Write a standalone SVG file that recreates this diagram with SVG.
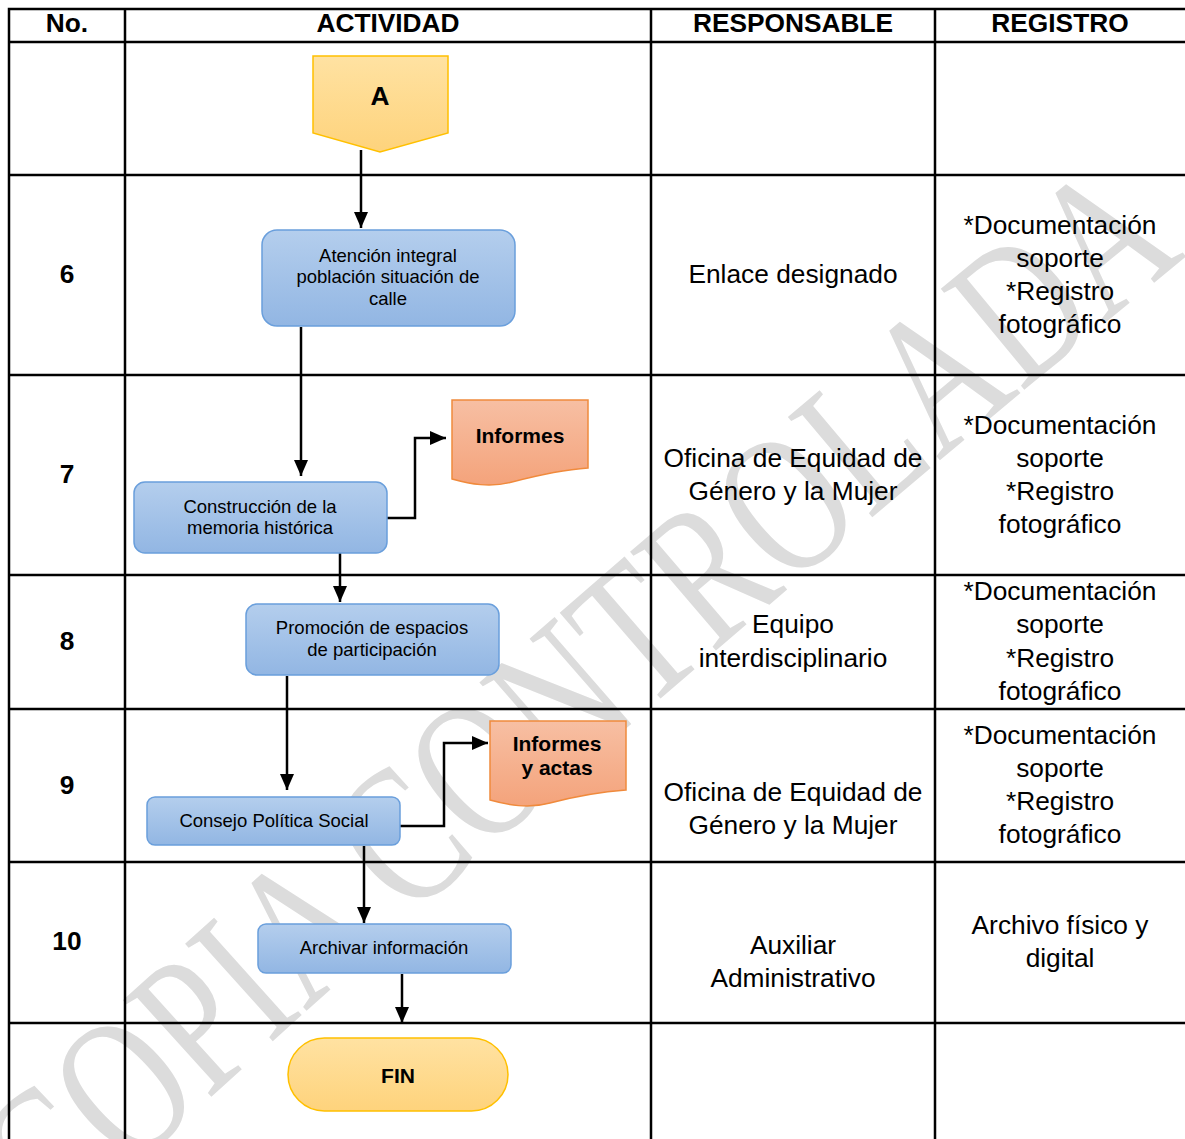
<svg xmlns="http://www.w3.org/2000/svg" width="1185" height="1139" viewBox="0 0 1185 1139">
<style>
.grid{stroke:#000;stroke-width:2.5;fill:none}
.hd{font-family:"Liberation Sans",Arial,sans-serif;font-weight:bold;font-size:26.3px;text-anchor:middle;fill:#000}
.cell{font-family:"Liberation Sans",Arial,sans-serif;font-size:26.3px;text-anchor:middle;fill:#000}
.nt{font-family:"Liberation Sans",Arial,sans-serif;font-size:18.5px;text-anchor:middle;fill:#000}
.bt{font-family:"Liberation Sans",Arial,sans-serif;font-weight:bold;font-size:21px;text-anchor:middle;fill:#000}
.proc{fill:url(#gBlue);stroke:#6a9fdc;stroke-width:1.5}
.doc{fill:url(#gOrange);stroke:#f08a3c;stroke-width:1.5}
.term{fill:url(#gYellow);stroke:#ffc000;stroke-width:1.5}
.conn{stroke:#000;stroke-width:2.5;fill:none;marker-end:url(#arr)}
.wm{font-family:"Liberation Serif","Times New Roman",serif;font-size:200px;fill:#dcdcdc}
</style>
<defs>
<linearGradient id="gBlue" x1="0" y1="0" x2="0" y2="1"><stop offset="0" stop-color="#b4ceed"/><stop offset="1" stop-color="#92b6e3"/></linearGradient>
<linearGradient id="gOrange" x1="0" y1="0" x2="0" y2="1"><stop offset="0" stop-color="#f7bfa3"/><stop offset="1" stop-color="#f4a37b"/></linearGradient>
<linearGradient id="gYellow" x1="0" y1="0" x2="0" y2="1"><stop offset="0" stop-color="#ffe2a2"/><stop offset="1" stop-color="#fed37c"/></linearGradient>
<marker id="arr" markerUnits="userSpaceOnUse" markerWidth="16" markerHeight="14" refX="16" refY="7" orient="auto"><path d="M0,0 L16,7 L0,14 z" fill="#000"/></marker>
<path id="wmPath" d="M 55,1240 Q 640,700 1225,225"/>
</defs>

<g id="watermark">
<text class="wm"><textPath href="#wmPath" textLength="1500" lengthAdjust="spacingAndGlyphs">COPIA CONTROLADA</textPath></text>
</g>

<g id="table">
<rect x="9" y="9" width="1190" height="1150" class="grid"/>
<line x1="125" y1="9" x2="125" y2="1139" class="grid"/>
<line x1="651" y1="9" x2="651" y2="1139" class="grid"/>
<line x1="935" y1="9" x2="935" y2="1139" class="grid"/>
<line x1="9" y1="42" x2="1185" y2="42" class="grid"/>
<line x1="9" y1="175" x2="1185" y2="175" class="grid"/>
<line x1="9" y1="375" x2="1185" y2="375" class="grid"/>
<line x1="9" y1="575" x2="1185" y2="575" class="grid"/>
<line x1="9" y1="709" x2="1185" y2="709" class="grid"/>
<line x1="9" y1="862" x2="1185" y2="862" class="grid"/>
<line x1="9" y1="1023" x2="1185" y2="1023" class="grid"/>

<text class="hd" x="67" y="32">No.</text>
<text class="hd" x="388" y="32">ACTIVIDAD</text>
<text class="hd" x="793" y="32">RESPONSABLE</text>
<text class="hd" x="1060" y="32">REGISTRO</text>

<text class="hd" x="67" y="283">6</text>
<text class="hd" x="67" y="483">7</text>
<text class="hd" x="67" y="650">8</text>
<text class="hd" x="67" y="794">9</text>
<text class="hd" x="67" y="950">10</text>

<text class="cell" x="793" y="283">Enlace designado</text>
<text class="cell" x="793" y="467">Oficina de Equidad de</text>
<text class="cell" x="793" y="500">Género y la Mujer</text>
<text class="cell" x="793" y="633">Equipo</text>
<text class="cell" x="793" y="667">interdisciplinario</text>
<text class="cell" x="793" y="801">Oficina de Equidad de</text>
<text class="cell" x="793" y="834">Género y la Mujer</text>
<text class="cell" x="793" y="954">Auxiliar</text>
<text class="cell" x="793" y="987">Administrativo</text>

<text class="cell" x="1060" y="234">*Documentación</text>
<text class="cell" x="1060" y="267">soporte</text>
<text class="cell" x="1060" y="300">*Registro</text>
<text class="cell" x="1060" y="333">fotográfico</text>
<text class="cell" x="1060" y="434">*Documentación</text>
<text class="cell" x="1060" y="467">soporte</text>
<text class="cell" x="1060" y="500">*Registro</text>
<text class="cell" x="1060" y="533">fotográfico</text>
<text class="cell" x="1060" y="600">*Documentación</text>
<text class="cell" x="1060" y="633">soporte</text>
<text class="cell" x="1060" y="667">*Registro</text>
<text class="cell" x="1060" y="700">fotográfico</text>
<text class="cell" x="1060" y="744">*Documentación</text>
<text class="cell" x="1060" y="777">soporte</text>
<text class="cell" x="1060" y="810">*Registro</text>
<text class="cell" x="1060" y="843">fotográfico</text>
<text class="cell" x="1060" y="934">Archivo físico y</text>
<text class="cell" x="1060" y="967">digital</text>
</g>

<g id="connectors">
<path class="conn" d="M361,150 V228"/>
<path class="conn" d="M301,327 V476"/>
<path class="conn" d="M386,518 H415 V438 H446"/>
<path class="conn" d="M340,553 V602"/>
<path class="conn" d="M287,676 V790"/>
<path class="conn" d="M400,826 H444 V743 H488"/>
<path class="conn" d="M364,846 V923"/>
<path class="conn" d="M402,974 V1023"/>
</g>

<g id="nodeA">
<path class="term" d="M313,56 H448 V133 L380,152 L313,133 Z"/>
<text class="hd" x="380" y="105">A</text>
</g>

<g id="node6">
<rect class="proc" x="262" y="230" width="253" height="96" rx="15"/>
<text class="nt" x="388" y="262">Atención integral</text>
<text class="nt" x="388" y="283">población situación de</text>
<text class="nt" x="388" y="305">calle</text>
</g>

<g id="node7">
<rect class="proc" x="134" y="482" width="253" height="71" rx="11"/>
<text class="nt" x="260" y="513">Construcción de la</text>
<text class="nt" x="260" y="534">memoria histórica</text>
</g>

<g id="docInformes">
<path class="doc" d="M452,400 H588 V468 C560,470 535,476 512,482 C490,488 470,484 452,479 Z"/>
<text class="bt" x="520" y="443">Informes</text>
</g>

<g id="node8">
<rect class="proc" x="246" y="604" width="253" height="71" rx="11"/>
<text class="nt" x="372" y="634">Promoción de espacios</text>
<text class="nt" x="372" y="656">de participación</text>
</g>

<g id="node9">
<rect class="proc" x="147" y="797" width="253" height="48" rx="8"/>
<text class="nt" x="274" y="827">Consejo Política Social</text>
</g>

<g id="docActas">
<path class="doc" d="M490,721 H626 V790 C598,792 573,797 550,803 C528,809 508,805 490,800 Z"/>
<text class="bt" x="557" y="751">Informes</text>
<text class="bt" x="557" y="775">y actas</text>
</g>

<g id="node10">
<rect class="proc" x="258" y="924" width="253" height="49" rx="8"/>
<text class="nt" x="384" y="954">Archivar información</text>
</g>

<g id="nodeFIN">
<rect class="term" x="288" y="1038" width="220" height="73" rx="36.5"/>
<text class="bt" x="398" y="1083">FIN</text>
</g>
</svg>
